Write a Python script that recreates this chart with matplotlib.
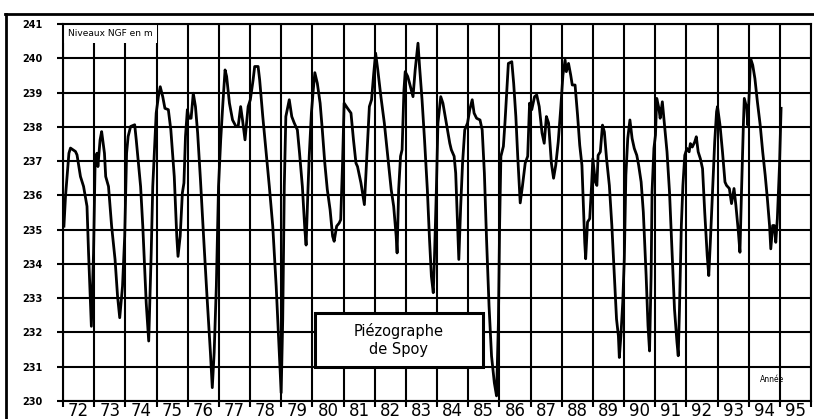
"""
Piézographe de Spoy: niveaux NGF 1972-1995, redrawn from a scanned figure.
"""

import numpy as np
import matplotlib
matplotlib.use("Agg")
import matplotlib.pyplot as plt
from matplotlib.patches import Rectangle

# decimal year, level (m NGF)
years = [
    1972.03, 1972.08, 1972.19, 1972.24, 1972.40, 1972.45, 1972.56, 1972.66, 1972.77, 1972.82,
    1972.91, 1972.98, 1973.03, 1973.09, 1973.12, 1973.19, 1973.24, 1973.33, 1973.37, 1973.46,
    1973.56, 1973.67, 1973.75, 1973.82, 1973.91, 1973.98, 1974.04, 1974.09, 1974.17, 1974.30,
    1974.35, 1974.41, 1974.49, 1974.56, 1974.67, 1974.75, 1974.83, 1974.88, 1974.99, 1975.06,
    1975.12, 1975.20, 1975.27, 1975.38, 1975.46, 1975.57, 1975.65, 1975.69, 1975.76, 1975.83,
    1975.88, 1975.93, 1975.99, 1976.04, 1976.11, 1976.18, 1976.25, 1976.32, 1976.41, 1976.51,
    1976.62, 1976.73, 1976.79, 1976.85, 1976.92, 1976.99, 1977.06, 1977.13, 1977.20, 1977.25,
    1977.34, 1977.44, 1977.55, 1977.62, 1977.70, 1977.76, 1977.84, 1977.94, 1978.01, 1978.10,
    1978.15, 1978.26, 1978.31, 1978.41, 1978.52, 1978.62, 1978.73, 1978.84, 1978.94, 1979.00,
    1979.05, 1979.10, 1979.15, 1979.26, 1979.34, 1979.42, 1979.52, 1979.59, 1979.68, 1979.76,
    1979.80, 1979.86, 1979.90, 1979.97, 1980.03, 1980.08, 1980.16, 1980.25, 1980.32, 1980.40,
    1980.48, 1980.57, 1980.65, 1980.70, 1980.78, 1980.86, 1980.91, 1980.97, 1981.02, 1981.13,
    1981.24, 1981.32, 1981.40, 1981.45, 1981.56, 1981.67, 1981.75, 1981.83, 1981.90, 1981.97,
    1982.03, 1982.10, 1982.20, 1982.31, 1982.42, 1982.53, 1982.61, 1982.69, 1982.72, 1982.77,
    1982.83, 1982.88, 1982.94, 1982.98, 1983.06, 1983.12, 1983.23, 1983.30, 1983.39, 1983.44,
    1983.52, 1983.60, 1983.69, 1983.76, 1983.82, 1983.88, 1983.92, 1983.98, 1984.03, 1984.12,
    1984.19, 1984.30, 1984.41, 1984.46, 1984.55, 1984.60, 1984.66, 1984.70, 1984.76, 1984.82,
    1984.89, 1984.98, 1985.05, 1985.13, 1985.19, 1985.27, 1985.38, 1985.45, 1985.52, 1985.59,
    1985.67, 1985.75, 1985.84, 1985.91, 1985.97, 1986.01, 1986.05, 1986.13, 1986.18, 1986.24,
    1986.29, 1986.40, 1986.46, 1986.53, 1986.59, 1986.67, 1986.74, 1986.83, 1986.91, 1986.97,
    1987.04, 1987.13, 1987.20, 1987.28, 1987.37, 1987.44, 1987.51, 1987.58, 1987.67, 1987.74,
    1987.81, 1987.89, 1987.97, 1988.04, 1988.11, 1988.15, 1988.22, 1988.29, 1988.34, 1988.43,
    1988.51, 1988.58, 1988.65, 1988.70, 1988.74, 1988.77, 1988.83, 1988.90, 1988.96, 1989.00,
    1989.08, 1989.13, 1989.17, 1989.24, 1989.31, 1989.37, 1989.44, 1989.53, 1989.61, 1989.69,
    1989.76, 1989.82, 1989.85, 1989.90, 1989.96, 1990.01, 1990.06, 1990.12, 1990.19, 1990.26,
    1990.33, 1990.41, 1990.47, 1990.55, 1990.62, 1990.71, 1990.77, 1990.82, 1990.87, 1990.90,
    1990.96, 1991.01, 1991.05, 1991.12, 1991.16, 1991.23, 1991.30, 1991.38, 1991.46, 1991.55,
    1991.62, 1991.70, 1991.74, 1991.78, 1991.84, 1991.89, 1991.95, 1992.02, 1992.09, 1992.13,
    1992.19, 1992.27, 1992.32, 1992.38, 1992.45, 1992.52, 1992.59, 1992.67, 1992.72, 1992.77,
    1992.84, 1992.91, 1992.97, 1993.00, 1993.08, 1993.16, 1993.24, 1993.29, 1993.38, 1993.45,
    1993.53, 1993.59, 1993.67, 1993.72, 1993.77, 1993.83, 1993.86, 1993.94, 1993.97, 1994.02,
    1994.06, 1994.13, 1994.20, 1994.28, 1994.37, 1994.45, 1994.53, 1994.60, 1994.67, 1994.71,
    1994.77, 1994.82, 1994.87, 1994.92, 1994.99, 1995.04,
]
levels = [
    235.10, 235.97, 237.23, 237.38, 237.28, 237.18, 236.55, 236.26, 235.68, 234.32,
    232.18, 234.32, 236.94, 237.23, 236.84, 237.62, 237.86, 237.23, 236.55, 236.26,
    235.10, 234.13, 233.06, 232.43, 233.35, 234.81, 237.23, 237.72, 238.01, 238.06,
    237.62, 237.04, 236.26, 235.10, 232.86, 231.75, 234.32, 236.26, 238.40, 238.88,
    239.17, 238.88, 238.54, 238.50, 237.91, 236.55, 234.81, 234.22, 234.81, 236.07,
    236.36, 237.72, 238.50, 238.25, 238.25, 238.98, 238.59, 237.82, 236.46, 234.81,
    233.06, 231.41, 230.39, 231.41, 233.35, 236.26, 237.62, 238.69, 239.66, 239.47,
    238.69, 238.20, 238.01, 238.01, 238.59, 238.20, 237.62, 238.59, 238.79, 239.37,
    239.76, 239.76, 239.37, 238.30, 237.23, 236.26, 235.10, 233.35, 231.41, 230.24,
    232.38, 236.26, 238.30, 238.79, 238.30, 238.11, 237.91, 237.23, 236.26, 235.00,
    234.55, 236.17, 237.14, 238.40, 239.08, 239.58, 239.27, 238.69, 237.91, 236.94,
    236.17, 235.58, 234.81, 234.66, 235.10, 235.19, 235.29, 236.94, 238.69, 238.54,
    238.40, 237.62, 236.94, 236.84, 236.36, 235.73, 237.14, 238.59, 238.79, 239.56,
    240.15, 239.66, 238.88, 238.11, 237.14, 236.17, 235.68, 234.81, 234.32, 236.17,
    237.14, 237.33, 239.08, 239.61, 239.47, 239.27, 238.88, 239.66, 240.44, 239.76,
    238.79, 237.62, 236.17, 234.71, 233.64, 233.16, 234.22, 236.17, 238.11, 238.88,
    238.69, 238.11, 237.52, 237.33, 237.14, 236.65, 235.19, 234.13, 235.68, 236.94,
    237.91, 238.11, 238.50, 238.79, 238.40, 238.25, 238.20, 237.91, 236.65, 234.71,
    232.77, 231.31, 230.53, 230.15, 232.28, 235.19, 237.14, 237.43, 238.11, 239.08,
    239.85, 239.90, 239.27, 238.30, 237.14, 235.78, 236.26, 236.94, 237.14, 238.69,
    238.50, 238.88, 238.93, 238.59, 237.82, 237.52, 238.30, 238.11, 236.94, 236.50,
    236.88, 237.56, 238.54, 239.51, 239.95, 239.61, 239.85, 239.51, 239.22, 239.22,
    238.34, 237.46, 236.88, 235.61, 234.63, 234.15, 235.22, 235.32, 236.29, 237.07,
    236.39, 236.29, 237.17, 237.27, 238.05, 237.85, 237.07, 236.29, 235.12, 233.66,
    232.39, 231.90, 231.27, 231.90, 232.88, 234.15, 236.59, 237.66, 238.20, 237.66,
    237.37, 237.17, 236.88, 236.39, 235.51, 233.66, 232.20, 231.46, 233.66, 236.10,
    237.37, 237.76, 238.83, 238.54, 238.25, 238.73, 238.05, 237.27, 236.10, 234.15,
    232.68, 231.71, 231.32, 232.68, 235.12, 236.29, 237.17, 237.37, 237.27, 237.51,
    237.41, 237.56, 237.71, 237.27, 237.07, 236.78, 235.51, 234.24, 233.66, 234.63,
    236.10, 237.56, 238.44, 238.59, 238.05, 237.27, 236.39, 236.29, 236.20, 235.76,
    236.20, 235.71, 234.93, 234.34, 236.10, 238.05, 238.83, 238.54, 238.05, 239.02,
    240.00, 239.80, 239.41, 238.73, 238.05, 237.27, 236.59, 235.90, 235.12, 234.44,
    235.12, 235.12, 234.63, 235.32, 236.88, 238.54,
]

year_bounds = list(range(1972, 1997))
year_labels = [f"{y % 100:02d}" for y in range(1972, 1996)]
level_ticks = list(range(230, 242))

GRID_LW = 1.5

fig = plt.figure(figsize=(8.14, 4.19), dpi=100)
ax = fig.add_axes([63 / 814, 1 - 401 / 419, 748 / 814, 377 / 419])

# scanned page frame (top and left rule)
fig.add_artist(plt.Line2D([5 / 814, 1.0], [1 - 14 / 419, 1 - 14 / 419],
                          color="black", lw=2.0, transform=fig.transFigure))
fig.add_artist(plt.Line2D([6 / 814, 6 / 814], [0.0, 1 - 14 / 419],
                          color="black", lw=2.0, transform=fig.transFigure))

ax.plot(years, levels, color="black", lw=2.0, solid_joinstyle="round", zorder=3)

ax.set_xlim(1972, 1996)
ax.set_ylim(230, 241)

ax.set_xticks(year_bounds)
ax.set_xticklabels([])
ax.set_xticks(np.arange(1972.5, 1996, 1.0), minor=True)
ax.set_xticklabels(year_labels, minor=True, fontsize=12)
ax.tick_params(axis="x", which="major", direction="out", length=4, width=GRID_LW)
ax.tick_params(axis="x", which="minor", length=0, pad=1)

ax.set_yticks(level_ticks)
ax.set_yticklabels([str(v) for v in level_ticks], fontsize=7, fontweight="bold")
ax.tick_params(axis="y", direction="out", length=4, width=GRID_LW, pad=11)

ax.grid(True, which="major", color="black", lw=GRID_LW)
ax.set_axisbelow(True)
for sp in ax.spines.values():
    sp.set_linewidth(GRID_LW)

# white patch behind the unit label hides the top of the grid there
ax.add_patch(Rectangle((0.0, 0.95), 0.126, 0.05, transform=ax.transAxes,
                       facecolor="white", edgecolor="none", zorder=1.5))
ax.text(0.007, 0.975, "Niveaux NGF en m", transform=ax.transAxes,
        fontsize=6.5, va="center", ha="left", zorder=4)
ax.text(0.948, 0.056, "Année", transform=ax.transAxes,
        fontsize=5.5, va="center", ha="center", zorder=4)

box = Rectangle((0.337, 0.090), 0.2245, 0.143, transform=ax.transAxes,
                facecolor="white", edgecolor="black", lw=2.2, zorder=5)
ax.add_patch(box)
ax.text(0.449, 0.162, "Piézographe\nde Spoy", transform=ax.transAxes,
        fontsize=10.5, ha="center", va="center", linespacing=1.25, zorder=6)

fig.savefig("out.png", dpi=100)
print("Saved: out.png")
